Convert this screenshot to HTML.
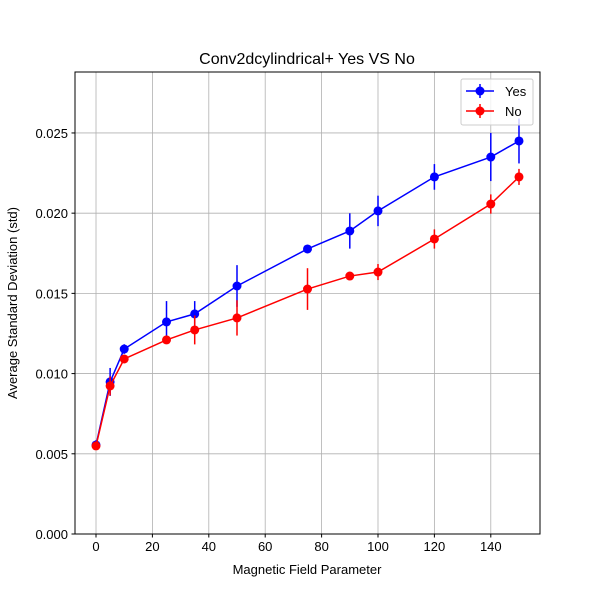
<!DOCTYPE html>
<html><head><meta charset="utf-8"><style>
body{margin:0;background:#fff;font-family:"Liberation Sans","DejaVu Sans",sans-serif;}
</style></head><body>
<svg id="chart" width="600" height="600" xmlns="http://www.w3.org/2000/svg">
<rect width="600" height="600" fill="#fff"/>
<g id="grid"></g>
<g id="marks"></g>
<rect x="75" y="72" width="465" height="462" fill="none" stroke="#000" stroke-width="1"/>
<g id="axes"></g>
<text x="307" y="64" text-anchor="middle" font-size="16">Conv2dcylindrical+ Yes VS No</text>
<text x="307" y="574" text-anchor="middle" font-size="13">Magnetic Field Parameter</text>
<text transform="translate(17,303) rotate(-90)" text-anchor="middle" font-size="13">Average Standard Deviation (std)</text>
<g>
<rect x="461" y="79" width="72" height="46" rx="2" fill="#fff" fill-opacity="0.8" stroke="#ccc"/>
<g>
<line x1="466" y1="91" x2="494" y2="91" stroke="blue" stroke-width="1.5"/><line x1="480" y1="84" x2="480" y2="98" stroke="blue" stroke-width="1.5"/><circle cx="480" cy="91" r="4.5" fill="blue"/>
<text x="505" y="96" font-size="13">Yes</text></g>
<g>
<line x1="466" y1="111" x2="494" y2="111" stroke="red" stroke-width="1.5"/><line x1="480" y1="104" x2="480" y2="118" stroke="red" stroke-width="1.5"/><circle cx="480" cy="111" r="4.5" fill="red"/>
<text x="505" y="116" font-size="13">No</text></g>
</g>
</svg>
<script>
const xValues=[0,5,10,25,35,50,75,90,100,120,140,150];
const yesValues=[0.00555,0.00948,0.01153,0.01322,0.01372,0.01546,0.01777,0.01889,0.02014,0.02226,0.0235,0.0245];
const yesErrors=[0.0003,0.00087,0.0003,0.0013,0.0008,0.0013,0.0002,0.0011,0.00095,0.0008,0.0015,0.0014];
const noValues=[0.00549,0.00923,0.01091,0.0121,0.01272,0.01347,0.01527,0.01608,0.01633,0.01839,0.02057,0.02226];
const noErrors=[0.0002,0.0006,0.0002,0.0002,0.0009,0.0011,0.0013,0.0002,0.0005,0.0006,0.0006,0.0005];
const xTicks=[0,20,40,60,80,100,120,140];
const yTicks=[0,0.005,0.01,0.015,0.02,0.025];
const yTickLabels=["0.000","0.005","0.010","0.015","0.020","0.025"];
const NS="http://www.w3.org/2000/svg";
const X0=75,X1=540,Y0=534,Y1=72,xmin=-7.45,xmax=157.45,ymin=0,ymax=0.0288;
const sx=v=>X0+(v-xmin)/(xmax-xmin)*(X1-X0);
const sy=v=>Y0-(v-ymin)/(ymax-ymin)*(Y0-Y1);
function mk(t,a,p){const e=document.createElementNS(NS,t);for(const k in a)e.setAttribute(k,a[k]);p.appendChild(e);return e;}
const grid=document.getElementById('grid'),axes=document.getElementById('axes'),marks=document.getElementById('marks');
xTicks.forEach(t=>{const x=sx(t);
const g=mk('line',{x1:x,x2:x,y1:Y1,y2:Y0,stroke:'#b0b0b0','stroke-width':0.8},grid);


mk('line',{x1:x,x2:x,y1:Y0,y2:Y0+3.5,stroke:'#000'},axes);
const l=mk('text',{x:x,y:Y0+17,'text-anchor':'middle','font-size':13},axes);l.textContent=t;

});
yTicks.forEach((t,i)=>{const y=sy(t);
const g=mk('line',{x1:X0,x2:X1,y1:y,y2:y,stroke:'#b0b0b0','stroke-width':0.8},grid);


mk('line',{x1:X0-3.5,x2:X0,y1:y,y2:y,stroke:'#000'},axes);
const l=mk('text',{x:X0-7,y:y+5,'text-anchor':'end','font-size':13},axes);l.textContent=yTickLabels[i];

});
function series(vals,errs,color,name){
const g=mk('g',{},marks);


const pl=mk('polyline',{points:xValues.map((x,i)=>sx(x)+','+sy(vals[i])).join(' '),fill:'none',stroke:color,'stroke-width':1.5},g);


xValues.forEach((x,i)=>{
const e=mk('line',{x1:sx(x),x2:sx(x),y1:sy(vals[i]-errs[i]),y2:sy(vals[i]+errs[i]),stroke:color,'stroke-width':1.5},g);


const c=mk('circle',{cx:sx(x),cy:sy(vals[i]),r:4.5,fill:color},g);

});}
series(yesValues,yesErrors,'blue','yes');
series(noValues,noErrors,'red','no');
</script>
</body></html>
